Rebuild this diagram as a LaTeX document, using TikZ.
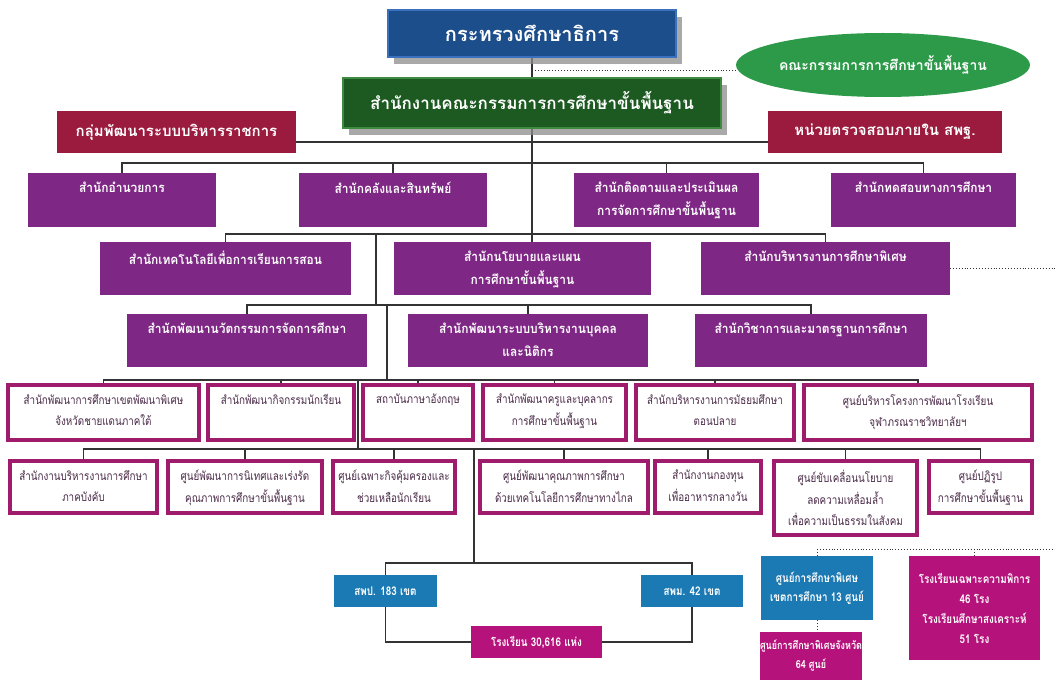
\documentclass[tikz,border=0pt]{standalone}
\usepackage{fontspec}
\newfontfamily\thai[Script=Thai]{Loma}
\newfontfamily\thaic[Script=Thai,FakeStretch=0.82]{Loma}
\newfontfamily\thaip[Script=Thai,FakeStretch=0.92]{Loma}
\usetikzlibrary{shapes.geometric,shadows,backgrounds}
\definecolor{cpurple}{HTML}{7E2784}
\definecolor{cmag}{HTML}{9E1C6B}
\definecolor{cred}{HTML}{9A1B3D}
\definecolor{cblue}{HTML}{1D4E8C}
\definecolor{cbluebd}{HTML}{3A70BE}
\definecolor{cgreen}{HTML}{1D5A21}
\definecolor{cgreenbd}{HTML}{3E8A40}
\definecolor{cellip}{HTML}{2D9A4A}
\definecolor{csteel}{HTML}{1B79B3}
\definecolor{cpink}{HTML}{B5137B}
\definecolor{ctext}{HTML}{4A2A48}
\definecolor{cline}{HTML}{333333}
\newcommand\mybox[8]{%
  \node[#2,minimum width={(#5-#3)*1pt},minimum height={(#6-#4)*1pt}] (#1) at ({(#3+#5)/2},{(#4+#6)/2}) {};
  \node[#7] (#1t) at ([yshift=-9pt]#1.north) {#8};}
\newcommand\cbox[7]{%
  \node[#2,minimum width={(#5-#3)*1pt},minimum height={(#6-#4)*1pt}] (#1) at ({(#3+#5)/2},{(#4+#6)/2}) {#7};}
\begin{document}
\begin{tikzpicture}[x=1pt,y=-1pt,
  conn/.style={draw=cline,line width=1.1pt},
  dots/.style={draw=cline,line width=0.9pt,dotted},
  base/.style={inner sep=0pt,outer sep=0pt,rectangle},
  pbox/.style={base,fill=cpurple},
  wbox/.style={base,fill=white,draw=cmag,line width=3.2pt},
  redbox/.style={base,fill=cred,text=white,font=\thai\bfseries\fontsize{15}{18}\selectfont},
  sbox/.style={base,fill=csteel,align=center,text=white,font=\thaic\bfseries\fontsize{12}{19}\selectfont},
  kbox/.style={base,fill=cpink,align=center,text=white,font=\thaic\bfseries\fontsize{12}{20}\selectfont},
  plbl/.style={anchor=north,align=center,text=white,font=\thaip\bfseries\fontsize{13}{23}\selectfont,inner sep=0pt},
  wlbl/.style={anchor=north,align=center,text=ctext,font=\thaic\fontsize{12}{21.5}\selectfont,inner sep=0pt},
  shad/.style={drop shadow={shadow xshift=6pt,shadow yshift=-7pt,fill=black!45,opacity=.75}}]
\useasboundingbox (0,0) rectangle (1055,682);
% top
\node[base,shad,fill=cblue,draw=cbluebd,line width=2pt,minimum width=288pt,minimum height=47pt,text=white,font=\thai\bfseries\fontsize{20}{24}\selectfont] (top) at (532,33.5) {กระทรวงศึกษาธิการ};
\node[ellipse,fill=cellip,minimum width=265pt,minimum height=64pt,inner sep=0pt,text=white,font=\thai\bfseries\fontsize{14}{17}\selectfont] (ell) at (883,65) {คณะกรรมการการศึกษาขั้นพื้นฐาน};
\node[base,shad,fill=cgreen,draw=cgreenbd,line width=2pt,minimum width=378pt,minimum height=50pt,text=white,font=\thai\bfseries\fontsize{17}{20}\selectfont] (green) at (532,103) {สำนักงานคณะกรรมการการศึกษาขั้นพื้นฐาน};
\cbox{redL}{redbox}{57}{111}{296}{153}{กลุ่มพัฒนาระบบบริหารราชการ}
\cbox{redR}{redbox}{768}{111}{1002}{153}{หน่วยตรวจสอบภายใน สพฐ.}
% row 1
\mybox{r1a}{pbox}{28}{173}{216}{227}{plbl}{สำนักอำนวยการ}
\mybox{r1b}{pbox}{299}{173}{487}{227}{plbl}{สำนักคลังและสินทรัพย์}
\mybox{r1c}{pbox}{574}{173}{759}{227}{plbl}{สำนักติดตามและประเมินผล\\การจัดการศึกษาขั้นพื้นฐาน}
\mybox{r1d}{pbox}{831}{173}{1016}{227}{plbl}{สำนักทดสอบทางการศึกษา}
% row 2
\mybox{r2a}{pbox}{100}{242}{351}{295}{plbl}{สำนักเทคโนโลยีเพื่อการเรียนการสอน}
\mybox{r2b}{pbox}{394}{242}{651}{295}{plbl}{สำนักนโยบายและแผน\\การศึกษาขั้นพื้นฐาน}
\mybox{r2c}{pbox}{701}{242}{950}{295}{plbl}{สำนักบริหารงานการศึกษาพิเศษ}
% row 3
\mybox{r3a}{pbox}{127}{314}{367}{367}{plbl}{สำนักพัฒนานวัตกรรมการจัดการศึกษา}
\mybox{r3b}{pbox}{408}{314}{648}{367}{plbl}{สำนักพัฒนาระบบบริหารงานบุคคล\\และนิติกร}
\mybox{r3c}{pbox}{695}{314}{927}{367}{plbl}{สำนักวิชาการและมาตรฐานการศึกษา}
% row 4
\mybox{r4a}{wbox}{8}{385}{199}{440}{wlbl}{สำนักพัฒนาการศึกษาเขตพัฒนาพิเศษ\\จังหวัดชายแดนภาคใต้}
\mybox{r4b}{wbox}{208}{385}{354}{440}{wlbl}{สำนักพัฒนากิจกรรมนักเรียน}
\mybox{r4c}{wbox}{363}{385}{473}{440}{wlbl}{สถาบันภาษาอังกฤษ}
\mybox{r4d}{wbox}{483}{385}{626}{440}{wlbl}{สำนักพัฒนาครูและบุคลากร\\การศึกษาขั้นพื้นฐาน}
\mybox{r4e}{wbox}{636}{385}{794}{440}{wlbl}{สำนักบริหารงานการมัธยมศึกษา\\ตอนปลาย}
\mybox{r4f}{wbox}{804}{385}{1032}{440}{wlbl}{ศูนย์บริหารโครงการพัฒนาโรงเรียน\\จุฬาภรณราชวิทยาลัยฯ}
% row 5
\mybox{r5a}{wbox}{10}{461}{157}{513}{wlbl}{สำนักงานบริหารงานการศึกษา\\ภาคบังคับ}
\mybox{r5b}{wbox}{168}{461}{322}{513}{wlbl}{ศูนย์พัฒนาการนิเทศและเร่งรัด\\คุณภาพการศึกษาขั้นพื้นฐาน}
\mybox{r5c}{wbox}{333}{461}{455}{513}{wlbl}{ศูนย์เฉพาะกิจคุ้มครองและ\\ช่วยเหลือนักเรียน}
\mybox{r5d}{wbox}{480}{461}{648}{513}{wlbl}{ศูนย์พัฒนาคุณภาพการศึกษา\\ด้วยเทคโนโลยีการศึกษาทางไกล}
\mybox{r5e}{wbox}{655}{461}{761}{513}{wlbl}{สำนักงานกองทุน\\เพื่ออาหารกลางวัน}
\mybox{r5f}{wbox}{774}{461}{917}{535}{wlbl}{ศูนย์ขับเคลื่อนนโยบาย\\ลดความเหลื่อมล้ำ\\เพื่อความเป็นธรรมในสังคม}
\mybox{r5g}{wbox}{929}{461}{1032}{513}{wlbl}{ศูนย์ปฏิรูป\\การศึกษาขั้นพื้นฐาน}
% bottom
\cbox{spp}{sbox}{334}{575}{437}{607}{สพป. 183 เขต}
\cbox{spm}{sbox}{641}{575}{743}{607}{สพม. 42 เขต}
\cbox{school}{kbox}{471}{626}{602}{658}{โรงเรียน 30,616 แห่ง}
\cbox{sc13}{sbox}{761}{556}{873}{620}{ศูนย์การศึกษาพิเศษ\\เขตการศึกษา 13 ศูนย์}
\cbox{sc64}{kbox,font=\thaic\bfseries\fontsize{11}{19}\selectfont}{760}{632}{862}{680}{ศูนย์การศึกษาพิเศษจังหวัด\\64 ศูนย์}
\cbox{sch46}{kbox}{909}{556}{1040}{660}{โรงเรียนเฉพาะความพิการ\\46 โรง\\โรงเรียนศึกษาสงเคราะห์\\51 โรง}
% connectors
\begin{pgfonlayer}{background}
\coordinate (t1) at (532,70);
\coordinate (b0) at (532,142);
\coordinate (b1) at (532,163);
\coordinate (b2) at (532,234);
\coordinate (j2) at (376,234);
\coordinate (j3) at (376,305);
\coordinate (j3b) at (387,305);
\coordinate (j4) at (387,380);
\coordinate (j4b) at (358,380);
\coordinate (j5) at (358,449);
\coordinate (j5b) at (474,449);
\coordinate (j6) at (474,563);
\coordinate (e1) at (1055,0);
\coordinate (e2) at (1055,549);
\draw[conn] (top.south) -- (green.north);
\draw[dots] (t1) -- (t1 -| ell.west);
\draw[conn] (green.south) -- (green.south |- r2b.north);
\draw[conn] (redL.east |- b0) -- (redR.west |- b0);
\draw[conn] (r1a.north) |- (b1) -| (r1d.north);
\draw[conn] (r1b.north) -- (r1b.north |- b1);
\draw[conn] (r1c.north) -- (r1c.north |- b1);
\draw[conn] (r2a.north) |- (b2) -| (r2c.north);
\draw[conn] (j2) -- (j3);
\draw[conn] (r3a.north) |- (j3) -| (r3c.north);
\draw[conn] (r3b.north) -- (r3b.north |- j3);
\draw[conn] (j3b) -- (j4);
\draw[conn] (r4a.north) |- (j4) -| (r4f.north);
\foreach \n in {r4b,r4c,r4d,r4e} \draw[conn] (\n.north) -- (\n.north |- j4);
\draw[conn] (j4b) -- (j5);
\draw[conn] (r5a.north) |- (j5) -| (r5g.north);
\foreach \n in {r5b,r5c,r5d,r5e,r5f} \draw[conn] (\n.north) -- (\n.north |- j5);
\draw[conn] (j5b) -- (j6);
\draw[conn] (spp.north) |- (j6) -| (spm.north);
\draw[conn] (spp.south) |- (school.center) -| (spm.south);
\draw[dots] (r2c.east) -- (r2c.east -| e1);
\draw[dots] (sc13.north |- e2) -- (e2);
\draw[dots] (sc13.north) -- (sc13.north |- e2);
\draw[dots] (sch46.north) -- (sch46.north |- e2);
\draw[dots] (sc13.south) -- (sc13.south |- sc64.north);
\end{pgfonlayer}
\end{tikzpicture}
\end{document}
